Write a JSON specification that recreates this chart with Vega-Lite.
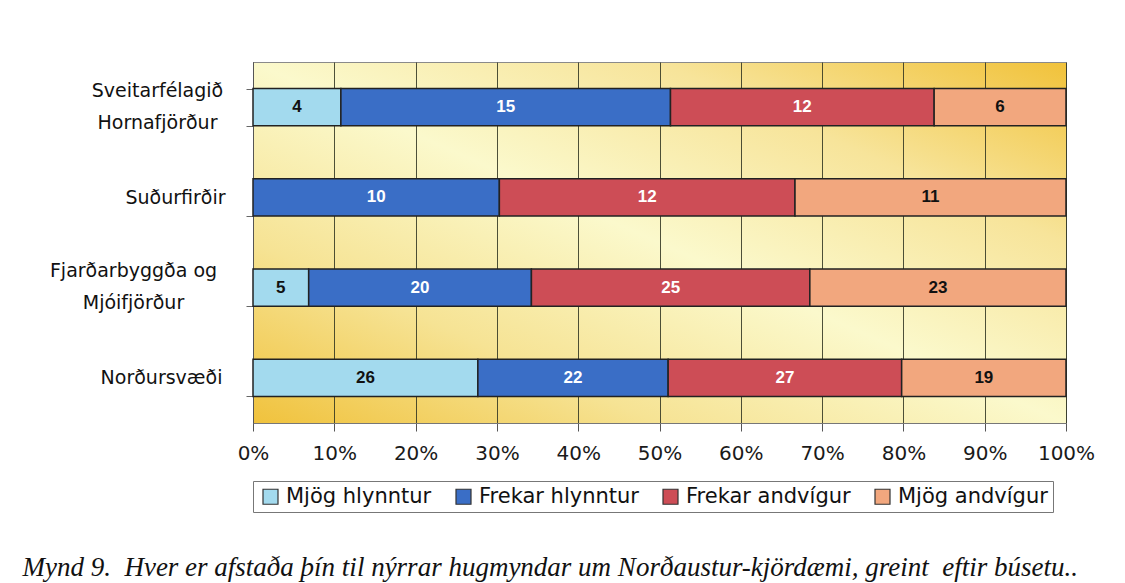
{
  "$schema": "https://vega.github.io/schema/vega-lite/v6.json",
  "autosize": "none",
  "width": 813,
  "height": 361,
  "padding": {"left": 253, "top": 62, "right": 59, "bottom": 160},
  "background": "white",
  "view": {
    "fill": {"gradient": "linear", "x1": 0, "y1": 1, "x2": 1, "y2": 0,
      "stops": [
        {"offset": 0, "color": "#f0c23c"},
        {"offset": 0.25, "color": "#f6e394"},
        {"offset": 0.5, "color": "#fbf9cc"},
        {"offset": 0.75, "color": "#f7e49a"},
        {"offset": 1, "color": "#f1c23a"}
      ]},
    "stroke": "#8a8a8a",
    "strokeWidth": 1
  },
  "title": {
    "text": "Mynd 9.\u00a0 Hver er afstaða þín til nýrrar hugmyndar um Norðaustur-kjördæmi, greint\u00a0 eftir búsetu..",
    "orient": "bottom",
    "anchor": "start",
    "frame": "bounds",
    "font": "Liberation Serif",
    "fontStyle": "italic",
    "fontWeight": "normal",
    "fontSize": 27,
    "color": "#111",
    "offset": 42,
    "dx": -27
  },
  "data": {
    "values": [
      {"place": "Sveitarfélagið Hornafjörður", "answer": "Mjög hlynntur", "rank": 1, "count": 4},
      {"place": "Sveitarfélagið Hornafjörður", "answer": "Frekar hlynntur", "rank": 2, "count": 15},
      {"place": "Sveitarfélagið Hornafjörður", "answer": "Frekar andvígur", "rank": 3, "count": 12},
      {"place": "Sveitarfélagið Hornafjörður", "answer": "Mjög andvígur", "rank": 4, "count": 6},
      {"place": "Suðurfirðir", "answer": "Frekar hlynntur", "rank": 2, "count": 10},
      {"place": "Suðurfirðir", "answer": "Frekar andvígur", "rank": 3, "count": 12},
      {"place": "Suðurfirðir", "answer": "Mjög andvígur", "rank": 4, "count": 11},
      {"place": "Fjarðarbyggða og Mjóifjörður", "answer": "Mjög hlynntur", "rank": 1, "count": 5},
      {"place": "Fjarðarbyggða og Mjóifjörður", "answer": "Frekar hlynntur", "rank": 2, "count": 20},
      {"place": "Fjarðarbyggða og Mjóifjörður", "answer": "Frekar andvígur", "rank": 3, "count": 25},
      {"place": "Fjarðarbyggða og Mjóifjörður", "answer": "Mjög andvígur", "rank": 4, "count": 23},
      {"place": "Norðursvæði", "answer": "Mjög hlynntur", "rank": 1, "count": 26},
      {"place": "Norðursvæði", "answer": "Frekar hlynntur", "rank": 2, "count": 22},
      {"place": "Norðursvæði", "answer": "Frekar andvígur", "rank": 3, "count": 27},
      {"place": "Norðursvæði", "answer": "Mjög andvígur", "rank": 4, "count": 19}
    ]
  },
  "encoding": {
    "y": {
      "field": "place",
      "type": "nominal",
      "sort": ["Sveitarfélagið Hornafjörður", "Suðurfirðir", "Fjarðarbyggða og Mjóifjörður", "Norðursvæði"],
      "scale": {"paddingInner": 0.59, "paddingOuter": 0.295},
      "axis": {
        "title": null,
        "labelExpr": "datum.label == 'Sveitarfélagið Hornafjörður' ? ['Sveitarfélagið', 'Hornafjörður'] : datum.label == 'Fjarðarbyggða og Mjóifjörður' ? ['Fjarðarbyggða og', 'Mjóifjörður'] : datum.label",
        "labelFont": "DejaVu Sans",
        "labelFontSize": 19,
        "labelColor": "#111",
        "labelLineHeight": 32,
        "labelAlign": "center",
        "labelPadding": {
          "condition": [
            {"test": "datum.value == 'Sveitarfélagið Hornafjörður'", "value": 89},
            {"test": "datum.value == 'Suðurfirðir'", "value": 71},
            {"test": "datum.value == 'Fjarðarbyggða og Mjóifjörður'", "value": 113}
          ],
          "value": 85
        },
        "labelOffset": {
          "condition": {"test": "datum.value == 'Sveitarfélagið Hornafjörður' || datum.value == 'Fjarðarbyggða og Mjóifjörður'", "value": -17},
          "value": 0
        },
        "labelLimit": 300,
        "tickBand": "extent",
        "tickSize": 7,
        "tickColor": "#666",
        "domainColor": "#555",
        "grid": false
      }
    },
    "x": {
      "field": "count",
      "type": "quantitative",
      "stack": "normalize",
      "scale": {"domain": [0, 1]},
      "axis": {
        "title": null,
        "format": ".0%",
        "values": [0, 0.1, 0.2, 0.3, 0.4, 0.5, 0.6, 0.7, 0.8, 0.9, 1],
        "labelFlush": false,
        "labelOverlap": false,
        "labelFont": "DejaVu Sans",
        "labelFontSize": 20,
        "labelColor": "#1a1a1a",
        "labelPadding": 12,
        "tickSize": 8,
        "tickColor": "#555",
        "domainColor": "#777",
        "grid": true,
        "gridColor": "#2e3320",
        "gridWidth": 1,
        "gridOpacity": 0.85
      }
    },
    "order": {"field": "rank", "type": "quantitative"}
  },
  "layer": [
    {
      "mark": {"type": "bar", "stroke": "#222", "strokeWidth": 1.5},
      "encoding": {
        "color": {
          "field": "answer",
          "type": "nominal",
          "scale": {
            "domain": ["Mjög hlynntur", "Frekar hlynntur", "Frekar andvígur", "Mjög andvígur"],
            "range": ["#a3daee", "#3a6ec6", "#cd4d56", "#f2a77e"]
          },
          "legend": {
            "title": null,
            "orient": "bottom",
            "direction": "horizontal",
            "columns": 4,
            "symbolType": "square",
            "symbolSize": 225,
            "symbolStrokeColor": "#333",
            "symbolStrokeWidth": 1.2,
            "labelFont": "DejaVu Sans",
            "labelFontSize": 21,
            "labelColor": "#111",
            "labelLimit": 300,
            "columnPadding": 19,
            "symbolOffset": 2,
            "labelOffset": 5,
            "strokeColor": "#777",
            "padding": 5,
            "offset": 18
          }
        }
      }
    },
    {
      "mark": {"type": "text", "font": "Liberation Sans", "fontWeight": "bold", "fontSize": 17, "baseline": "middle"},
      "encoding": {
        "x": {"field": "count", "type": "quantitative", "stack": "normalize", "bandPosition": 0.5},
        "text": {"field": "count", "type": "quantitative"},
        "color": {
          "condition": {"test": "indexof(datum.answer, 'Frekar') === 0", "value": "white"},
          "value": "#111"
        }
      }
    }
  ]
}
